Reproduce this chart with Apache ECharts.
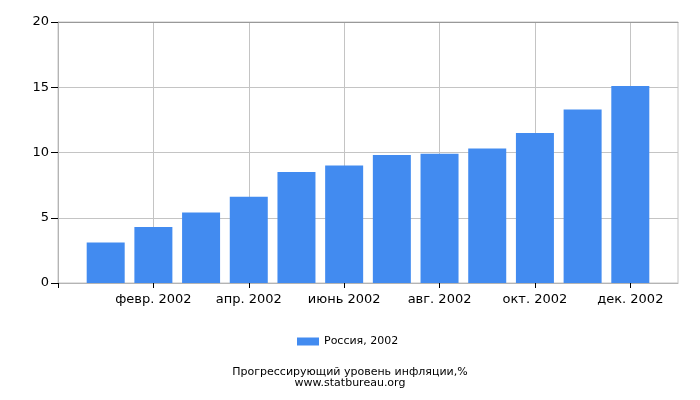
<!DOCTYPE html>
<html style="height: 100%">
  <head>
    <meta charset="utf-8" />
  </head>
  <body style="height: 100%; margin: 0; overflow: hidden; background: #fff">
    <div id="container" style="width: 700px; height: 400px"></div>
    <script src="https://cdn.jsdelivr.net/npm/echarts@6/dist/echarts.min.js"></script>
    <script>
      const months = [
        'янв. 2002', 'февр. 2002', 'март 2002', 'апр. 2002', 'май 2002', 'июнь 2002',
        'июль 2002', 'авг. 2002', 'сент. 2002', 'окт. 2002', 'нояб. 2002', 'дек. 2002',
      ]
      const values = [3.1, 4.3, 5.4, 6.6, 8.5, 9.0, 9.8, 9.9, 10.3, 11.5, 13.3, 15.1]
      const seriesName = 'Россия, 2002'
      const titleLines = ['Прогрессирующий уровень инфляции,%', 'www.statbureau.org']

      // empty slot at each end so the bars sit between the plot edges
      const axisData = [''].concat(months, [''])
      const barData = ['-'].concat(values, ['-'])
      const font = 'DejaVu Sans'

      const chart = echarts.init(document.getElementById('container'), null, { renderer: 'canvas' })

      chart.setOption({
        animation: false,
        textStyle: { fontFamily: font },
        title: {
          text: titleLines.join('\n'),
          left: 345,
          top: 362,
          textAlign: 'center',
          textStyle: { fontSize: 11, fontWeight: 'normal', color: '#000', lineHeight: 11, fontFamily: font },
        },
        legend: {
          data: [seriesName],
          left: 292,
          top: 331,
          icon: 'rect',
          itemWidth: 22,
          itemHeight: 8,
          itemGap: 4,
          textStyle: { fontSize: 11, color: '#000', fontFamily: font },
        },
        grid: {
          left: 58,
          right: 22,
          top: 22,
          bottom: 117,
          show: true,
          borderColor: '#c4c4c4',
          borderWidth: 1,
        },
        xAxis: [
          {
            type: 'category',
            data: axisData,
            boundaryGap: false,
            axisLine: { lineStyle: { color: '#b4b4b4' } },
            axisTick: {
              length: 5,
              interval: (i) => i % 2 === 0 && i < 13,
              lineStyle: { color: '#000' },
            },
            axisLabel: {
              interval: (i) => i % 2 === 0 && i > 0 && i < 13,
              color: '#000',
              fontSize: 13,
              margin: 10,
              fontFamily: font,
            },
            splitLine: {
              show: true,
              interval: (i) => i % 2 === 0 && i > 0 && i < 13,
              lineStyle: { color: '#c4c4c4' },
            },
          },
          {
            type: 'category',
            data: axisData,
            boundaryGap: false,
            position: 'top',
            axisLine: { lineStyle: { color: '#999' } },
            axisTick: { show: false },
            axisLabel: { show: false },
          },
        ],
        yAxis: {
          type: 'value',
          min: 0,
          max: 20,
          interval: 5,
          axisLine: { show: true, lineStyle: { color: '#b4b4b4' } },
          axisTick: { show: true, length: 7, lineStyle: { color: '#000' } },
          axisLabel: { color: '#000', fontSize: 13, margin: 9, fontFamily: font },
          splitLine: { lineStyle: { color: '#c4c4c4' } },
        },
        series: [
          {
            name: seriesName,
            type: 'bar',
            data: barData,
            barWidth: 38,
            itemStyle: { color: '#428bf0' },
          },
        ],
      })

      window.addEventListener('resize', chart.resize)
    </script>
  </body>
</html>
